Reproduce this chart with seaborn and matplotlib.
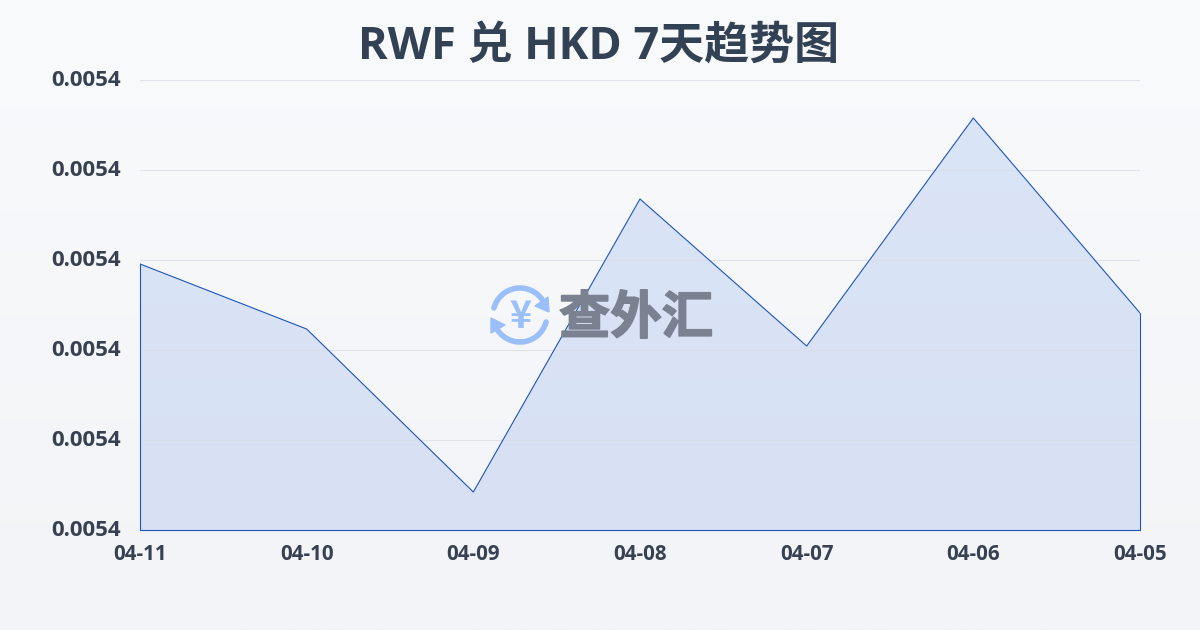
import numpy as np
import pandas as pd
import matplotlib
matplotlib.use("Agg")
import matplotlib.pyplot as plt
import matplotlib.patheffects as pe
from matplotlib.patches import Arc, Polygon
import seaborn as sns

dates = ["04-11", "04-10", "04-09", "04-08", "04-07", "04-06", "04-05"]
rates = [0.005402956, 0.005402233, 0.005400422, 0.005403678, 0.005402044, 0.005404578, 0.005402411]
tick_values = [0.005400, 0.005401, 0.005402, 0.005403, 0.005404, 0.005405]
tick_labels = ["0.0054"] * 6
title = "RWF 兑 HKD 7天趋势图"
watermark = "查外汇"

sns.set_theme(style="white")
fonts = ["Open Sans", "Noto Sans CJK SC", "DejaVu Sans"]
plt.rcParams["font.family"] = fonts
W, H = 1200, 630
fig = plt.figure(figsize=(12, 6.3), dpi=100)

bg = fig.add_axes([0, 0, 1, 1], zorder=0)
bg.imshow(np.linspace(0, 1, 256).reshape(-1, 1), aspect="auto", extent=[0, 1, 0, 1],
          cmap=matplotlib.colors.LinearSegmentedColormap.from_list("bg", ["#f9fafc", "#f2f4f7"]))
bg.axis("off")

ax = fig.add_axes([140 / W, 100 / H, 1000 / W, 450 / H], zorder=1)
ax.patch.set_alpha(0)
df = pd.DataFrame({"date": dates, "rate": rates, "pos": range(len(dates))})

grad = ax.imshow(np.linspace(0, 1, 256).reshape(-1, 1), aspect="auto",
                 extent=[0, len(dates) - 1, tick_values[0], tick_values[-1]], zorder=2,
                 cmap=matplotlib.colors.LinearSegmentedColormap.from_list("f", ["#d8e1f4", "#dbe5f8"]),
                 origin="lower")
ax.set_xlim(0, len(dates) - 1)
ax.set_ylim(tick_values[0], tick_values[-1])
outline = list(zip(df["pos"], df["rate"])) + [(6, tick_values[0]), (0, tick_values[0])]
clip = Polygon(outline, closed=True, transform=ax.transData, fc="none", ec="none")
ax.add_patch(clip)
grad.set_clip_path(clip)
ax.grid(axis="y", color="#d9dde5", lw=0.8, zorder=3, alpha=0.75)
ax.set_axisbelow(False)
ax.plot([0, 0, 6, 6], [rates[0], tick_values[0], tick_values[0], rates[-1]],
        color="#1f55bd", lw=0.8, zorder=4, clip_on=False)
sns.lineplot(data=df, x="pos", y="rate", ax=ax, color="#1f55bd", lw=0.8, zorder=4, legend=False,
             errorbar=None)

ax.set_xticks(df["pos"], dates)
ax.set_yticks(tick_values, tick_labels)
ax.set_xlabel("")
ax.set_ylabel("")
for s in ax.spines.values():
    s.set_visible(False)
ax.tick_params(axis="x", length=5, width=0.8, color="#e3e6ec", pad=5, labelsize=14.8, labelcolor="#374151")
ax.tick_params(axis="y", length=0, pad=14, labelsize=16, labelcolor="#374151")
for t in ax.get_xticklabels() + ax.get_yticklabels():
    t.set_fontweight("bold")
for t in ax.get_yticklabels():
    t.set_verticalalignment("center")

fig.text(599 / W, 1 - 47 / H, title, ha="center", va="center", fontsize=32.4,
         fontweight="bold", color="#334155")

ov = fig.add_axes([0, 0, 1, 1], zorder=5)
ov.set_xlim(0, W)
ov.set_ylim(H, 0)
ov.axis("off")
ov.patch.set_alpha(0)
blue = "#9abffa"
ov.add_patch(Arc((520, 315), 54, 54, theta1=195, theta2=325, color=blue, lw=4, capstyle="round"))
ov.add_patch(Arc((520, 315), 54, 54, theta1=15, theta2=145, color=blue, lw=4, capstyle="round"))
ov.add_patch(Polygon([(548, 297), (549, 312), (535, 306)], closed=True, fc=blue, ec=blue))
ov.add_patch(Polygon([(491, 318), (505, 325), (491, 333)], closed=True, fc=blue, ec=blue))
ov.text(520, 316, "¥", ha="center", va="center", fontsize=27, fontweight="bold", color=blue,
        family=["Noto Sans CJK SC"])
ov.text(636, 318, watermark, ha="center", va="center", fontsize=37, fontweight="black",
        color="#7a8291", family=["Noto Sans CJK SC"],
        path_effects=[pe.withStroke(linewidth=1.2, foreground="#7a8291")])

fig.savefig("out.png", dpi=100)
